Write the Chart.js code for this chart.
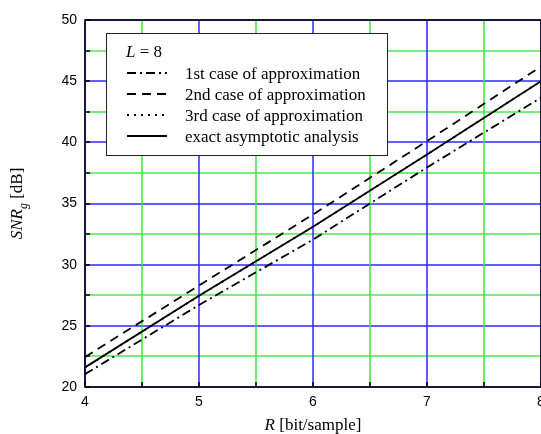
<!DOCTYPE html>
<html>
<head>
<meta charset="utf-8">
<script src="https://cdn.jsdelivr.net/npm/chart.js@4.4.1/dist/chart.umd.min.js"></script>
<style>
  html, body { margin: 0; padding: 0; background: #fff; }
  #wrap { width: 541px; height: 434px; overflow: hidden; }
  #box { width: 560px; height: 434px; }
</style>
</head>
<body>
<div id="wrap"><div id="box"><canvas id="chart"></canvas></div></div>
<script>
// values
var rate = [4, 5, 6, 7, 8];
var firstCase = [21.05, 26.7, 32.05, 37.95, 43.65];
var secondCase = [22.45, 28.3, 34.1, 40.1, 46.2];
var thirdCase = [21.6, 27.45, 33.1, 39.0, 45.0];
var exactAnalysis = [21.6, 27.45, 33.1, 39.0, 45.0];
var legendLabels = [
    "1st case of approximation",
    "2nd case of approximation",
    "3rd case of approximation",
    "exact asymptotic analysis"
];

function points(ys) {
    var out = [];
    for (var i = 0; i < rate.length; i++) {
        out.push({ x: rate[i], y: ys[i] });
    }
    return out;
}

var BLUE = "#2a2aff";
var GREEN_H = "#78f078";
var GREEN_V = "#38e838";
var serif = "'Liberation Serif', 'Times New Roman', serif";

// draws text made of pieces with different styles
function drawPieces(ctx, pieces, x, y, size) {
    var total = 0;
    pieces.forEach(function (p) {
        ctx.font = (p.italic ? "italic " : "") + (p.sub ? size * 0.7 : size) + "px " + serif;
        p.w = ctx.measureText(p.t).width;
        total += p.w;
    });
    var cx = x - total / 2;
    pieces.forEach(function (p) {
        ctx.font = (p.italic ? "italic " : "") + (p.sub ? size * 0.7 : size) + "px " + serif;
        ctx.fillText(p.t, cx, y + (p.sub ? size * 0.3 : 0));
        cx += p.w;
    });
}

// blue lines on whole units, green on halves
var gridPlugin = {
    id: "grid2",
    beforeDatasetsDraw: function (chart) {
        var ctx = chart.ctx;
        var a = chart.chartArea;
        var xs = chart.scales.x, ys = chart.scales.y;
        ctx.save();
        ys.ticks.forEach(function (t) {
            var major = Math.abs(t.value % 5) < 1e-6;
            var py = Math.round(ys.getPixelForValue(t.value));
            ctx.strokeStyle = major ? BLUE : GREEN_H;
            ctx.lineWidth = major ? 1.5 : 2;
            ctx.beginPath();
            ctx.moveTo(a.left, py);
            ctx.lineTo(a.right, py);
            ctx.stroke();
        });
        xs.ticks.forEach(function (t) {
            var major = Math.abs(t.value % 1) < 1e-6;
            var px = Math.round(xs.getPixelForValue(t.value));
            ctx.strokeStyle = major ? BLUE : GREEN_V;
            ctx.lineWidth = 1.5;
            ctx.beginPath();
            ctx.moveTo(px, a.top);
            ctx.lineTo(px, a.bottom);
            ctx.stroke();
        });
        ctx.restore();
    }
};

var framePlugin = {
    id: "frame",
    afterDraw: function (chart) {
        var ctx = chart.ctx;
        var a = chart.chartArea;
        var xs = chart.scales.x, ys = chart.scales.y;
        ctx.save();
        // inner ticks, left and bottom
        ctx.strokeStyle = "#000";
        ctx.lineWidth = 1.5;
        ctx.beginPath();
        ys.ticks.forEach(function (t) {
            var py = Math.round(ys.getPixelForValue(t.value));
            ctx.moveTo(a.left, py);
            ctx.lineTo(a.left + 5, py);
        });
        xs.ticks.forEach(function (t) {
            var px = Math.round(xs.getPixelForValue(t.value));
            ctx.moveTo(px, a.bottom);
            ctx.lineTo(px, a.bottom - 5);
        });
        ctx.stroke();
        // frame
        ctx.lineWidth = 1.5;
        ctx.strokeRect(a.left, a.top, a.right - a.left, a.bottom - a.top);

        // legend
        var lx = 106, ly = 33, lw = 281, lh = 122;
        ctx.fillStyle = "#fff";
        ctx.fillRect(lx, ly, lw, lh);
        ctx.strokeStyle = "#222";
        ctx.lineWidth = 1;
        ctx.strokeRect(lx + 0.5, ly + 0.5, lw, lh);
        ctx.fillStyle = "#000";
        ctx.textBaseline = "alphabetic";
        ctx.textAlign = "left";
        ctx.font = "italic 17px " + serif;
        ctx.fillText("L", 126, 57);
        var lwid = ctx.measureText("L").width;
        ctx.font = "17px " + serif;
        ctx.fillText(" = 8", 126 + lwid, 57);
        var ds = chart.data.datasets;
        for (var i = 0; i < legendLabels.length; i++) {
            var cy = 73 + i * 21;
            ctx.strokeStyle = "#000";
            ctx.lineWidth = 2;
            ctx.setLineDash(ds[i].borderDash || []);
            ctx.beginPath();
            ctx.moveTo(127, cy);
            ctx.lineTo(167, cy);
            ctx.stroke();
            ctx.setLineDash([]);
            ctx.font = "17px " + serif;
            ctx.fillText(legendLabels[i], 185, cy + 6);
        }

        // axis titles
        drawPieces(ctx, [{ t: "R", italic: true }, { t: " [bit/sample]" }], (a.left + 541) / 2, 430, 17);
        ctx.translate(22, (a.top + a.bottom) / 2);
        ctx.rotate(-Math.PI / 2);
        drawPieces(ctx, [{ t: "SNR", italic: true }, { t: "g", italic: true, sub: true }, { t: " [dB]" }], 0, 0, 17);
        ctx.restore();
    }
};

new Chart(document.getElementById("chart"), {
    type: "scatter",
    data: {
        datasets: [{
            label: legendLabels[0],
            data: points(firstCase),
            borderDash: [9, 4, 2, 4]
        }, {
            label: legendLabels[1],
            data: points(secondCase),
            borderDash: [9, 6]
        }, {
            label: legendLabels[2],
            data: points(thirdCase),
            borderDash: [2, 5]
        }, {
            label: legendLabels[3],
            data: points(exactAnalysis),
            borderDash: []
        }]
    },
    plugins: [gridPlugin, framePlugin],
    options: {
        responsive: true,
        maintainAspectRatio: false,
        animation: false,
        showLine: true,
        layout: { padding: { left: 0, right: 19, top: 20, bottom: 0 } },
        elements: {
            point: { radius: 0 },
            line: { borderColor: "#000", borderWidth: 1.8, tension: 0 }
        },
        plugins: {
            legend: { display: false },
            tooltip: { enabled: false }
        },
        scales: {
            x: {
                type: "linear",
                min: 4,
                max: 8,
                afterFit: function (s) { s.height = 47; },
                ticks: {
                    stepSize: 0.5,
                    padding: 7,
                    color: "#000",
                    font: { family: "'Liberation Sans', Arial, sans-serif", size: 14 },
                    maxRotation: 0,
                    autoSkip: false,
                    callback: function (v) { return v % 1 === 0 ? v : ""; }
                },
                grid: { display: false, drawTicks: false },
                border: { display: false }
            },
            y: {
                min: 20,
                max: 50,
                afterFit: function (s) { s.width = 85; },
                ticks: {
                    stepSize: 2.5,
                    padding: 8,
                    color: "#000",
                    font: { family: "'Liberation Sans', Arial, sans-serif", size: 14 },
                    autoSkip: false,
                    callback: function (v) { return v % 5 === 0 ? v : ""; }
                },
                grid: { display: false, drawTicks: false },
                border: { display: false }
            }
        }
    }
});
</script>
</body>
</html>
